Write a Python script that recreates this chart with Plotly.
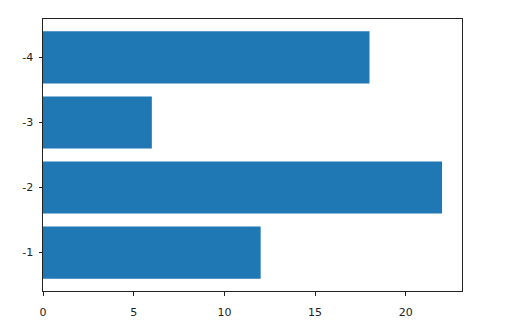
import plotly.graph_objects as go

categories = ["-1", "-2", "-3", "-4"]
values = [12, 22, 6, 18]
x_ticks = [0, 5, 10, 15, 20]

positions = list(range(len(categories)))

fig = go.Figure(go.Bar(
    x=values, y=positions, orientation="h",
    marker=dict(color="#1f77b4", line=dict(width=0)),
    width=0.8,
))

fig.update_layout(
    width=516, height=321,
    margin=dict(l=43, r=54, t=19, b=30, autoexpand=False),
    paper_bgcolor="white", plot_bgcolor="white",
    font=dict(family="DejaVu Sans", size=11, color="#222222"),
    showlegend=False,
)
fig.update_xaxes(
    range=[0, 23.1], tickvals=x_ticks, ticks="outside", ticklen=3.5, tickwidth=0.8,
    tickcolor="#222222", showgrid=False, zeroline=False, automargin=False,
    ticklabelstandoff=7,
    showline=True, linecolor="#222222", linewidth=1, mirror=True,
)
fig.update_yaxes(
    range=[-0.59, 3.59], tickvals=positions, ticktext=categories,
    ticks="outside", ticklen=3.5, tickwidth=0.8, tickcolor="#222222",
    showgrid=False, zeroline=False, automargin=False, ticklabelstandoff=3,
    showline=True, linecolor="#222222", linewidth=1, mirror=True,
)

fig.write_html("out.html")
